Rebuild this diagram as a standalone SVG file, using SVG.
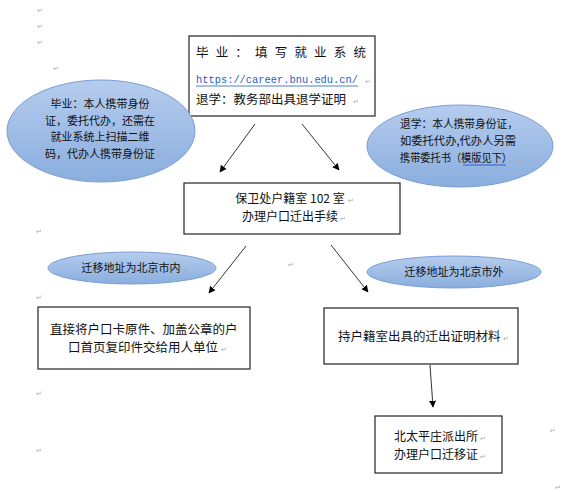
<svg xmlns="http://www.w3.org/2000/svg" width="565" height="492" viewBox="0 0 565 492">
<defs>
<linearGradient id="blueGrad" x1="0" y1="0" x2="0" y2="1">
<stop offset="0" stop-color="#b5ccee"/>
<stop offset="1" stop-color="#8aaede"/>
</linearGradient>
<marker id="arrow" viewBox="0 0 10 10" refX="9" refY="5" markerWidth="7" markerHeight="7" orient="auto" markerUnits="userSpaceOnUse">
<path d="M0,0 L10,5 L0,10 z" fill="#000"/>
</marker>
</defs>
<style>
.box{fill:#fff;stroke:#222;stroke-width:1.2}
.ell{fill:url(#blueGrad);stroke:#789ed3;stroke-width:1}
.t{font-family:"Noto Sans CJK SC","Noto Sans",sans-serif;fill:#111}
.s12{font-size:12.5px}
.s12m{font-size:12px}
.s11{font-size:11px}
.pm{font-family:"DejaVu Sans",sans-serif;font-size:7px;fill:#aaa}
.con{stroke:#333;stroke-width:1;fill:none;marker-end:url(#arrow)}
</style>
<rect width="565" height="492" fill="#fff"/>

<g id="marks">
<text class="pm" x="37" y="13">↵</text>
<text class="pm" x="37" y="29">↵</text>
<text class="pm" x="37" y="45">↵</text>
<text class="pm" x="53" y="71">↵</text>
<text class="pm" x="36" y="234">↵</text>
<text class="pm" x="288" y="267">↵</text>
<text class="pm" x="36" y="300">↵</text>
<text class="pm" x="36" y="396">↵</text>
<text class="pm" x="36" y="453">↵</text>
<text class="pm" x="550" y="433">↵</text>
<text class="pm" x="555" y="490">↵</text>
</g>

<g id="connectors">
<line class="con" x1="255" y1="124" x2="220" y2="172"/>
<line class="con" x1="302" y1="124" x2="339" y2="170"/>
<line class="con" x1="246" y1="246" x2="209" y2="293"/>
<line class="con" x1="331" y1="245" x2="368" y2="292"/>
<line class="con" x1="430" y1="365" x2="433" y2="407"/>
</g>

<g id="node-top">
<rect class="box" x="189" y="36" width="186" height="80"/>
<text class="t s12" x="196" y="57" textLength="170" lengthAdjust="spacing">毕业：填写就业系统</text>
<text x="196" y="83" font-family="'Liberation Mono',monospace" font-size="11" fill="#1f5fc4" textLength="162" lengthAdjust="spacingAndGlyphs">https://career.bnu.edu.cn/</text>
<line x1="196" y1="86" x2="358" y2="86" stroke="#1f5fc4" stroke-width="0.8"/>
<text class="pm" x="365" y="84">↵</text>
<text class="t s12" x="196" y="104">退学：教务部出具退学证明</text>
<text class="pm" x="353" y="104">↵</text>
</g>

<g id="node-left-ellipse">
<ellipse class="ell" cx="101" cy="131" rx="94" ry="51"/>
<text class="t s11" text-anchor="middle" x="100" y="108">毕业：本人携带身份</text>
<text class="t s11" text-anchor="middle" x="100" y="125">证，委托代办，还需在</text>
<text class="t s11" text-anchor="middle" x="100" y="141">就业系统上扫描二维</text>
<text class="t s11" text-anchor="middle" x="100" y="158">码，代办人携带身份证</text>
<text class="pm" x="157" y="158">↵</text>
</g>

<g id="node-right-ellipse">
<ellipse class="ell" cx="460" cy="146" rx="93" ry="41"/>
<text class="t s11" x="400" y="128" textLength="118" lengthAdjust="spacingAndGlyphs">退学：本人携带身份证，</text>
<text class="t s11" x="400" y="145" textLength="116" lengthAdjust="spacingAndGlyphs">如委托代办,代办人另需</text>
<text class="t s11" x="400" y="162" textLength="112" lengthAdjust="spacingAndGlyphs">携带委托书（模版见下）</text>
<line x1="463" y1="165" x2="506" y2="165" stroke="#2a5fd6" stroke-width="1"/>
<text class="pm" x="516" y="163">↵</text>
</g>

<g id="node-middle">
<rect class="box" x="184" y="183" width="216" height="51"/>
<text class="t s12m" text-anchor="middle" x="290" y="203">保卫处户籍室 102 室</text>
<text class="pm" x="348" y="203">↵</text>
<text class="t s12m" text-anchor="middle" x="290" y="221">办理户口迁出手续</text>
<text class="pm" x="340" y="221">↵</text>
</g>

<g id="node-inside-label">
<ellipse class="ell" cx="132" cy="268" rx="84" ry="16"/>
<text class="t s11" text-anchor="middle" x="131" y="272">迁移地址为北京市内</text>
<text class="pm" x="183" y="272">↵</text>
</g>

<g id="node-outside-label">
<ellipse class="ell" cx="454" cy="272" rx="87" ry="16"/>
<text class="t s11" text-anchor="middle" x="454" y="276">迁移地址为北京市外</text>
</g>

<g id="node-inside">
<rect class="box" x="38" y="307" width="212" height="62"/>
<text class="t s12" x="50" y="334">直接将户口卡原件、加盖公章的户</text>
<text class="t s12" x="68" y="352">口首页复印件交给用人单位</text>
<text class="pm" x="221" y="352">↵</text>
</g>

<g id="node-outside">
<rect class="box" x="324" y="308" width="194" height="56"/>
<text class="t s12" x="338" y="341">持户籍室出具的迁出证明材料</text>
<text class="pm" x="503" y="341">↵</text>
</g>

<g id="node-police">
<rect class="box" x="375" y="416" width="127" height="57"/>
<text class="t s12m" x="394" y="441">北太平庄派出所</text>
<text class="pm" x="480" y="441">↵</text>
<text class="t s12m" x="394" y="459">办理户口迁移证</text>
<text class="pm" x="480" y="459">↵</text>
</g>
</svg>
